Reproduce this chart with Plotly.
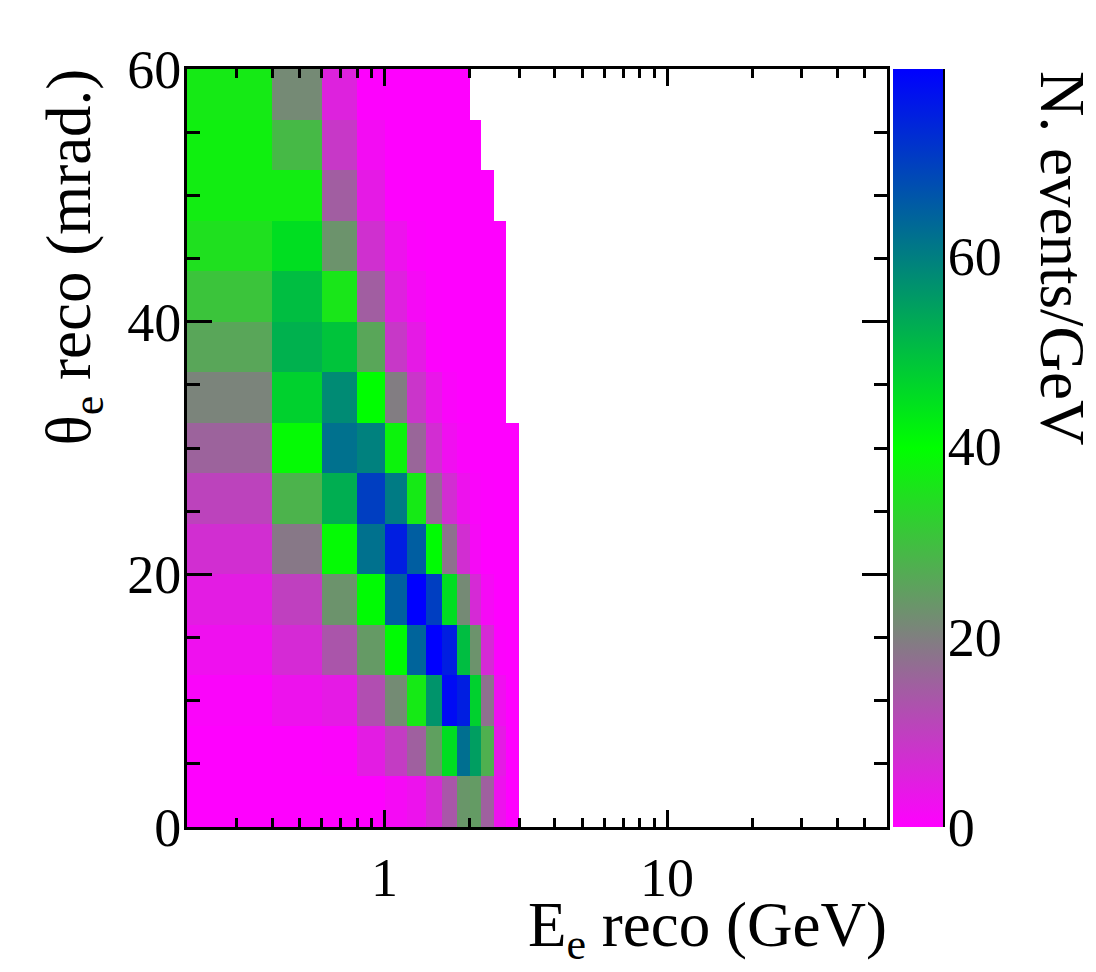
import plotly.graph_objects as go

# bin edges
e_edges = [0.2, 0.4, 0.6, 0.8, 1.0, 1.2, 1.4, 1.6, 1.8, 2.0, 2.2, 2.45, 2.7, 3.0]
theta_edges = [0, 4, 8, 12, 16, 20, 24, 28, 32, 36, 40, 44, 48, 52, 56, 60]

# N. events/GeV, one list per theta bin, from the bottom up
row_00 = [0.1, 0.1, 0.1, 0.2, 1.6, 2.8, 6.7, 13.5, 23.5, 24.2, 15, 2.8, 0.2]
row_04 = [0.1, 0.3, 0.7, 4.4, 9.4, 15, 25, 45, 62.4, 55, 27.5, 4, 0.2]
row_08 = [0.8, 2.8, 4, 12.2, 21.7, 36.5, 56.5, 78, 75, 47, 17.5, 2.4, 0.2]
row_12 = [2.5, 6.5, 13.3, 24, 40.5, 64, 80, 75, 50, 23, 6.5, 0.4, 0.1]
row_16 = [4.4, 10, 23, 40.5, 64.8, 80, 70, 45, 21.6, 6.6, 1.5, 0.2, 0.1]
row_20 = [7.2, 18.7, 39, 62, 75, 65, 40.5, 17.6, 7.2, 1.6, 0.2, 0.1, 0.1]
row_24 = [10.5, 28, 52.5, 70, 60.5, 36.5, 16, 7, 2.8, 0.8, 0.3, 0.1, 0.1]
row_28 = [15.4, 39, 62, 59.5, 38, 16, 7, 2.4, 0.8, 0.2, 0.1, 0.1, 0.1]
row_32 = [20.7, 47, 58, 40, 19.5, 8.3, 3.5, 0.8, 0.2, 0.1, 0.1, 0.1, None]
row_36 = [26, 52, 49, 26, 8.8, 4, 0.5, 0.1, 0.1, 0.1, 0.1, 0.1, None]
row_40 = [30.7, 50, 36, 14.7, 5, 1.5, 0.3, 0.1, 0.1, 0.1, 0.1, 0.1, None]
row_44 = [35, 45, 23, 7.5, 2.8, 0.5, 0.1, 0.1, 0.1, 0.1, 0.1, 0.1, None]
row_48 = [37, 37, 14.7, 4, 0.3, 0.1, 0.1, 0.1, 0.1, 0.1, 0.1, None, None]
row_52 = [37.5, 28.9, 8.8, 1.9, 0.2, 0.1, 0.1, 0.1, 0.1, 0.1, None, None, None]
row_56 = [36.5, 21.6, 5.3, 0.3, 0.1, 0.1, 0.1, 0.1, 0.1, None, None, None, None]

z_rows = [row_00, row_04, row_08, row_12, row_16, row_20, row_24, row_28,
          row_32, row_36, row_40, row_44, row_48, row_52, row_56]

z_max = 79.7
x_ticks = [1, 10]
x_minor = [0.3, 0.4, 0.5, 0.6, 0.7, 0.8, 0.9, 2, 3, 4, 5, 6, 7, 8, 9, 20, 30, 40, 50]
y_ticks = [0, 20, 40, 60]
z_ticks = [0, 20, 40, 60]

# window pixels of the frame; the page has an 8px body margin
W, H = 1080, 956
left, right, top, bottom = 187, 943, 69, 827
span = right - left


def fx(px):
    return (px - left) / span


def fy(px):
    return (bottom - px) / (bottom - top)


fig = go.Figure()
fig.add_trace(go.Heatmap(
    x=e_edges,
    y=theta_edges,
    z=z_rows,
    zmin=0,
    zmax=z_max,
    colorscale=[[0, "#ff00ff"], [0.5, "#00ff00"], [1, "#0000ff"]],
    hoverongaps=False,
    colorbar=dict(
        x=fx(893),
        xanchor="left",
        y=0,
        yanchor="bottom",
        len=1,
        thickness=50,
        outlinewidth=0,
        ticks="",
        showticklabels=False,
        xpad=0,
        ypad=0,
    ),
))
# empty trace so the colour bar's scale axis gets drawn
fig.add_trace(go.Scatter(x=[], y=[], yaxis="y2", showlegend=False, hoverinfo="skip"))

fig.update_layout(
    width=W,
    height=H,
    margin=dict(l=left - 8, r=W + 8 - right, t=top - 8, b=H + 8 - bottom),
    paper_bgcolor="white",
    plot_bgcolor="white",
    font=dict(family="Liberation Serif", color="black"),
    showlegend=False,
    yaxis2=dict(
        overlaying="y",
        anchor="free",
        position=1,
        side="right",
        range=[0, z_max],
        showgrid=False,
        zeroline=False,
        showline=True,
        linecolor="black",
        linewidth=3,
        ticks="inside",
        ticklen=26,
        tickwidth=3,
        tickcolor="black",
        tickmode="array",
        tickvals=z_ticks,
        ticklabelstandoff=-8,
        tickfont=dict(size=54),
    ),
)

fig.update_xaxes(
    type="log",
    range=[-0.69897, 1.77815],
    domain=[0, fx(887)],
    showgrid=False,
    zeroline=False,
    showline=True,
    linecolor="black",
    linewidth=3,
    mirror="ticks",
    ticks="inside",
    ticklen=17,
    tickwidth=3,
    tickcolor="black",
    tickmode="array",
    tickvals=x_ticks,
    ticktext=["1", "10"],
    ticklabelstandoff=1,
    tickfont=dict(size=54),
    minor=dict(ticks="inside", ticklen=9, tickwidth=3, tickcolor="black",
               tickmode="array", tickvals=x_minor, showgrid=False),
)

fig.update_yaxes(
    range=[0, 60],
    domain=[0, 1],
    showgrid=False,
    zeroline=False,
    showline=True,
    linecolor="black",
    linewidth=3,
    mirror="ticks",
    ticks="inside",
    ticklen=25,
    tickwidth=3,
    tickcolor="black",
    tickmode="array",
    tickvals=y_ticks,
    ticklabelstandoff=-8,
    tickfont=dict(size=54),
    minor=dict(ticks="inside", ticklen=13, tickwidth=3, tickcolor="black",
               dtick=5, showgrid=False),
    selector=dict(overlaying=None),
)

# axis titles sit at the far end of the axes
title_font = dict(family="Liberation Serif", size=63, color="black")
fig.add_annotation(text="E<sub>e</sub> reco (GeV)", xref="paper", yref="paper",
                   x=fx(889), y=fy(971), xanchor="right", yanchor="bottom",
                   showarrow=False, font=title_font)
fig.add_annotation(text="θ<sub>e</sub> reco (mrad.)", xref="paper", yref="paper",
                   x=fx(73), y=fy(67), xanchor="center", yanchor="top",
                   textangle=-90, showarrow=False, font=title_font)
fig.add_annotation(text="N. events/GeV", xref="paper", yref="paper",
                   x=fx(1062), y=fy(69), xanchor="center", yanchor="top",
                   textangle=90, showarrow=False, font=title_font)

fig.write_html("out.html")
